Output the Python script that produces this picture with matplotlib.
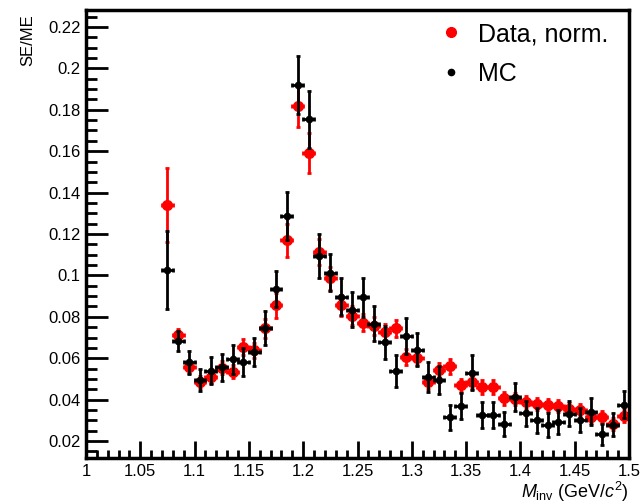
import numpy as np
import matplotlib
matplotlib.use('Agg')
import matplotlib.pyplot as plt
from matplotlib.lines import Line2D
from matplotlib.ticker import MultipleLocator

plt.rcParams['font.family'] = ['Liberation Sans', 'DejaVu Sans']
plt.rcParams['mathtext.fontset'] = 'custom'
plt.rcParams['mathtext.rm'] = 'Liberation Sans'
plt.rcParams['mathtext.it'] = 'Liberation Sans:italic'

# bin centres of the invariant mass histogram (bin width 0.01 GeV/c^2)
m_inv = [1.075, 1.085, 1.095, 1.105, 1.115, 1.125, 1.135, 1.145, 1.155, 1.165,
         1.175, 1.185, 1.195, 1.205, 1.215, 1.225, 1.235, 1.245, 1.255, 1.265,
         1.275, 1.285, 1.295, 1.305, 1.315, 1.325, 1.335, 1.345, 1.355, 1.365,
         1.375, 1.385, 1.395, 1.405, 1.415, 1.425, 1.435, 1.445, 1.455, 1.465,
         1.475, 1.485, 1.495]
bin_half_width = 0.005

# normalised data SE/ME
data_val = [0.134, 0.071, 0.0557, 0.0485, 0.051, 0.0555, 0.0535, 0.0653, 0.0638, 0.0745,
            0.0855, 0.117, 0.182, 0.159, 0.1113, 0.0986, 0.0855, 0.0805, 0.0772, 0.0756,
            0.0726, 0.0744, 0.0607, 0.0603, 0.0484, 0.0542, 0.0561, 0.0469, 0.0483, 0.0461,
            0.0461, 0.0406, 0.0402, 0.0387, 0.038, 0.0373, 0.037, 0.0355, 0.035, 0.0316,
            0.0316, 0.0281, 0.032]
data_err = [0.018, 0.003, 0.003, 0.003, 0.003, 0.003, 0.003, 0.0038, 0.0035, 0.0045,
            0.006, 0.008, 0.0102, 0.0097, 0.0065, 0.0055, 0.005, 0.0045, 0.0042, 0.0042,
            0.004, 0.004, 0.0038, 0.0038, 0.0035, 0.0035, 0.0035, 0.0033, 0.0033, 0.0033,
            0.0033, 0.003, 0.003, 0.003, 0.003, 0.003, 0.003, 0.003, 0.003, 0.003,
            0.003, 0.003, 0.003]

# Monte Carlo SE/ME
mc_val = [0.1026, 0.0683, 0.058, 0.0495, 0.054, 0.0557, 0.0594, 0.0583, 0.063, 0.0746,
          0.0933, 0.1288, 0.192, 0.1754, 0.1094, 0.1013, 0.0897, 0.0834, 0.0894, 0.0766,
          0.0676, 0.0539, 0.0707, 0.064, 0.0508, 0.0493, 0.0315, 0.0369, 0.053, 0.0326,
          0.0326, 0.028, 0.0412, 0.0334, 0.0301, 0.0277, 0.0293, 0.0332, 0.0303, 0.0342,
          0.0233, 0.0279, 0.0376]
mc_err = [0.019, 0.005, 0.0055, 0.0055, 0.0065, 0.0065, 0.0068, 0.0068, 0.0068, 0.008,
          0.0088, 0.0115, 0.0142, 0.0138, 0.0105, 0.009, 0.009, 0.0085, 0.0095, 0.0085,
          0.008, 0.0078, 0.0088, 0.008, 0.0072, 0.0068, 0.006, 0.0062, 0.0085, 0.0062,
          0.0062, 0.0058, 0.0068, 0.006, 0.006, 0.0058, 0.0058, 0.006, 0.0058, 0.0065,
          0.005, 0.0055, 0.0065]

fig = plt.figure(figsize=(6.43, 5.03), dpi=100)
ax = fig.add_axes([86/643, 1-458/503, 543/643, 448/503])

ax.errorbar(m_inv, data_val, xerr=bin_half_width, yerr=data_err, fmt='o', color='red',
            ms=7, elinewidth=2.0, capsize=1.5, capthick=2.0, zorder=2)
ax.errorbar(m_inv, mc_val, xerr=bin_half_width, yerr=mc_err, fmt='o', color='black',
            ms=4.5, elinewidth=2.0, capsize=1.5, capthick=2.0, zorder=3)

ax.set_xlim(1.0, 1.5)
ax.set_ylim(0.0118, 0.2282)
ax.xaxis.set_major_locator(MultipleLocator(0.05))
ax.xaxis.set_minor_locator(MultipleLocator(0.01))
ax.yaxis.set_major_locator(MultipleLocator(0.02))
ax.yaxis.set_minor_locator(MultipleLocator(0.005))
ax.xaxis.set_major_formatter(plt.FuncFormatter(lambda v, p: f'{v:g}'))
ax.yaxis.set_major_formatter(plt.FuncFormatter(lambda v, p: f'{v:g}'))

ax.tick_params(which='both', direction='in', top=False, right=False, width=2, labelsize=12)
ax.tick_params(axis='y', which='major', length=16, pad=4)
ax.tick_params(axis='y', which='minor', length=8)
ax.tick_params(axis='x', which='major', length=12, pad=4)
ax.tick_params(axis='x', which='minor', length=6)
for sp in ax.spines.values():
    sp.set_linewidth(2.5)

# axis titles, ROOT style
fig.text(28/643, 1-14/503, 'SE/ME', rotation=90, ha='center', va='top', fontsize=12)
fig.text(629/643, 1-492/503, r'$M_{\mathrm{inv}}$ (GeV/$c^{2}$)', ha='right', va='center',
         fontsize=13)

handles = [Line2D([], [], ls='none', marker='o', color='red', ms=7),
           Line2D([], [], ls='none', marker='o', color='black', ms=4.5)]
ax.legend(handles, ['Data, norm.', 'MC'], loc='upper left', bbox_to_anchor=(0.626, 1.001),
          frameon=False, fontsize=18, borderpad=0, handlelength=1.0,
          handletextpad=0.6, labelspacing=0.62)

plt.savefig('out.png')
